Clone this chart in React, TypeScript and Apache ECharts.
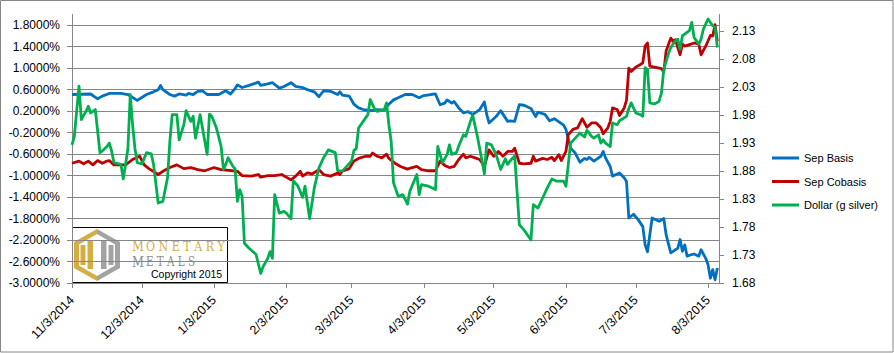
import React, { useEffect, useRef } from "react";
import * as echarts from "echarts";

// x values are days since 11/3/2014
const xTickDays = [0, 30, 61, 92, 120, 151, 181, 212, 242, 273];
const leftTicks = [-3.0, -2.6, -2.2, -1.8, -1.4, -1.0, -0.6, -0.2, 0.2, 0.6, 1.0, 1.4, 1.8];
const rightTicks = [1.68, 1.73, 1.78, 1.83, 1.88, 1.93, 1.98, 2.03, 2.08, 2.13];
const seriesNames = ["Sep Basis", "Sep Cobasis", "Dollar (g silver)"];
const seriesColors = ["#0070C0", "#C00000", "#00B050"];

const sepBasis: [number, number][] = [
  [0, 0.51], [8, 0.52], [11, 0.43], [13, 0.48], [16, 0.53], [21, 0.53], [24, 0.51], [28, 0.40],
  [32, 0.51], [35, 0.56], [37, 0.60], [38, 0.68], [39, 0.60], [42, 0.51], [44, 0.48], [46, 0.52],
  [49, 0.50], [50, 0.53], [52, 0.51], [54, 0.57], [56, 0.58], [58, 0.51], [63, 0.51], [66, 0.58],
  [68, 0.52], [70, 0.62], [71, 0.69], [73, 0.64], [76, 0.68], [80, 0.74], [81, 0.68], [84, 0.71],
  [86, 0.73], [89, 0.63], [91, 0.66], [94, 0.73], [96, 0.66], [99, 0.64], [101, 0.60], [104, 0.56],
  [106, 0.47], [108, 0.58], [111, 0.57], [114, 0.51], [115, 0.56], [116, 0.50], [119, 0.48], [121, 0.33],
  [123, 0.26], [125, 0.23], [129, 0.21], [131, 0.23], [134, 0.22], [136, 0.33], [138, 0.41], [140, 0.45],
  [143, 0.51], [146, 0.51], [149, 0.45], [151, 0.49], [154, 0.51], [156, 0.52], [158, 0.32], [160, 0.35],
  [161, 0.41], [163, 0.35], [164, 0.38], [166, 0.26], [168, 0.17], [170, 0.19], [172, 0.14], [175, 0.23],
  [177, 0.37], [178, 0.14], [179, -0.02], [182, 0.10], [184, 0.21], [187, 0.01], [188, 0.02], [190, 0.01],
  [191, 0.17], [192, 0.32], [194, 0.31], [197, 0.25], [199, 0.10], [200, 0.18], [203, 0.14], [205, 0.02],
  [207, 0.06], [209, 0.0], [211, -0.06], [212, -0.14], [214, -0.49], [216, -0.58], [218, -0.75], [220, -0.68],
  [221, -0.70], [222, -0.66], [224, -0.73], [227, -0.64], [228, -0.55], [229, -0.67], [231, -0.83], [232, -1.01],
  [234, -0.97], [235, -0.95], [237, -1.04], [238, -1.11], [239, -1.79], [241, -1.72], [243, -1.82], [245, -1.95],
  [246, -2.29], [247, -2.42], [249, -1.79], [252, -1.85], [254, -1.80], [255, -2.10], [257, -2.44], [258, -2.41],
  [260, -2.35], [261, -2.19], [262, -2.41], [263, -2.29], [264, -2.50], [266, -2.47], [267, -2.46], [269, -2.50],
  [270, -2.38], [272, -2.54], [273, -2.66], [274, -2.91], [275, -2.75], [276, -2.94], [277, -2.72],
];

const sepCobasis: [number, number][] = [
  [0, -0.77], [3, -0.73], [5, -0.78], [7, -0.73], [9, -0.80], [11, -0.72], [13, -0.77], [15, -0.73],
  [16, -0.72], [18, -0.80], [23, -0.80], [26, -0.70], [29, -0.64], [31, -0.80], [33, -0.87], [37, -0.98],
  [39, -0.92], [42, -0.85], [45, -0.80], [48, -0.87], [51, -0.85], [54, -0.89], [57, -0.91], [61, -0.85],
  [64, -0.89], [69, -0.91], [71, -0.92], [73, -1.00], [77, -1.01], [80, -0.98], [81, -1.03], [84, -1.00],
  [87, -1.00], [90, -0.98], [94, -1.08], [96, -1.01], [98, -0.92], [99, -1.01], [101, -0.95], [103, -0.97],
  [106, -0.89], [108, -0.98], [111, -1.01], [114, -0.95], [115, -0.98], [116, -0.92], [119, -0.87], [121, -0.73],
  [123, -0.68], [126, -0.64], [128, -0.64], [129, -0.58], [131, -0.64], [133, -0.67], [135, -0.60], [136, -0.68],
  [139, -0.78], [141, -0.83], [144, -0.88], [146, -0.85], [148, -0.83], [150, -0.89], [153, -0.91], [156, -0.91],
  [158, -0.73], [160, -0.81], [162, -0.85], [164, -0.83], [166, -0.70], [168, -0.60], [169, -0.67], [171, -0.64],
  [173, -0.67], [175, -0.70], [177, -0.83], [178, -0.67], [179, -0.52], [181, -0.64], [183, -0.55], [185, -0.64],
  [187, -0.55], [189, -0.55], [190, -0.49], [192, -0.77], [194, -0.78], [197, -0.77], [198, -0.64], [199, -0.73],
  [202, -0.68], [204, -0.70], [206, -0.66], [207, -0.72], [209, -0.61], [210, -0.72], [212, -0.55], [213, -0.24],
  [215, -0.14], [217, -0.11], [219, 0.06], [221, -0.10], [223, -0.02], [225, -0.02], [227, -0.11], [228, -0.22],
  [230, -0.11], [231, 0.01], [232, 0.26], [234, 0.23], [235, 0.12], [237, 0.26], [238, 0.40], [239, 1.00],
  [240, 0.94], [242, 1.02], [244, 1.07], [245, 1.10], [246, 1.41], [247, 1.47], [248, 1.04], [250, 1.02],
  [253, 0.99], [254, 0.93], [255, 1.32], [257, 1.56], [258, 1.50], [259, 1.53], [261, 1.25], [262, 1.45],
  [263, 1.41], [265, 1.44], [267, 1.47], [269, 1.45], [270, 1.25], [272, 1.41], [274, 1.61], [275, 1.60],
  [276, 1.81], [277, 1.50],
];

const dollarGSilver: [number, number][] = [
  [0, 1.927], [1, 1.942], [3, 2.032], [4, 1.972], [6, 1.987], [7, 1.996], [8, 1.984], [10, 1.990],
  [12, 1.913], [13, 1.916], [15, 1.924], [16, 1.930], [17, 1.916], [18, 1.895], [21, 1.892], [22, 1.866],
  [23, 1.892], [24, 1.921], [25, 2.017], [26, 1.963], [27, 1.921], [28, 1.895], [30, 1.893], [32, 1.913],
  [34, 1.911], [35, 1.892], [37, 1.823], [39, 1.826], [41, 1.868], [42, 1.933], [43, 1.981], [45, 1.981],
  [46, 1.936], [48, 1.963], [49, 1.988], [51, 1.969], [52, 1.978], [53, 1.939], [55, 1.981], [56, 1.957],
  [58, 1.910], [59, 1.982], [60, 1.978], [62, 1.957], [64, 1.924], [65, 1.883], [66, 1.892], [67, 1.904],
  [69, 1.889], [70, 1.884], [71, 1.826], [72, 1.847], [73, 1.835], [74, 1.751], [76, 1.742], [79, 1.731],
  [81, 1.697], [82, 1.709], [84, 1.724], [85, 1.736], [86, 1.724], [87, 1.838], [89, 1.805], [91, 1.808],
  [92, 1.805], [94, 1.795], [95, 1.863], [97, 1.853], [99, 1.833], [100, 1.853], [102, 1.795], [104, 1.850],
  [106, 1.886], [108, 1.904], [110, 1.918], [113, 1.913], [114, 1.881], [116, 1.880], [118, 1.889], [120, 1.898],
  [121, 1.917], [122, 1.920], [123, 1.957], [125, 1.969], [127, 1.981], [128, 2.008], [130, 1.990], [131, 1.987],
  [134, 1.990], [135, 2.002], [136, 1.963], [137, 1.933], [138, 1.859], [140, 1.835], [142, 1.838], [144, 1.821],
  [145, 1.844], [148, 1.874], [149, 1.838], [150, 1.856], [153, 1.853], [156, 1.847], [157, 1.924], [159, 1.895],
  [161, 1.910], [162, 1.927], [163, 1.910], [165, 1.913], [166, 1.925], [168, 1.945], [169, 1.942], [171, 1.969],
  [172, 1.980], [174, 1.942], [176, 1.898], [177, 1.875], [178, 1.930], [180, 1.927], [182, 1.910], [184, 1.883],
  [186, 1.902], [187, 1.892], [188, 1.898], [190, 1.907], [192, 1.784], [194, 1.775], [197, 1.757], [198, 1.820],
  [200, 1.814], [202, 1.832], [204, 1.850], [206, 1.866], [208, 1.862], [211, 1.862], [212, 1.853], [214, 1.930],
  [216, 1.939], [218, 1.948], [220, 1.941], [221, 1.953], [222, 1.948], [223, 1.942], [224, 1.939], [226, 1.945],
  [227, 1.930], [228, 1.936], [229, 1.930], [231, 1.924], [232, 1.966], [234, 1.963], [235, 1.970], [238, 1.978],
  [239, 1.992], [240, 2.002], [242, 1.984], [244, 1.981], [245, 1.978], [246, 2.065], [247, 2.062], [248, 2.002],
  [250, 2.000], [252, 2.005], [253, 2.020], [254, 2.062], [256, 2.090], [257, 2.101], [259, 2.113], [260, 2.116],
  [261, 2.098], [262, 2.122], [265, 2.131], [266, 2.146], [267, 2.119], [269, 2.107], [270, 2.116], [271, 2.134],
  [273, 2.152], [275, 2.140], [276, 2.137], [277, 2.101],
];

const FONT = "'Liberation Sans', Arial, sans-serif";
const SERIF = "'DejaVu Serif', serif";
const AXIS_GRAY = "#868686";

function dayToLabel(v: number): string {
  const dt = new Date(2014, 10, 3 + Math.round(v));
  return `${dt.getMonth() + 1}/${dt.getDate()}/${dt.getFullYear()}`;
}

function measure(text: string, font: string): number {
  const c = document.createElement("canvas").getContext("2d");
  if (!c) return text.length * 6;
  c.font = font;
  return c.measureText(text).width || text.length * 6;
}

function stretchedText(text: string, font: string, x: number, y: number, width: number, fill: string) {
  const w = measure(text, font);
  return {
    type: "text",
    x,
    y,
    scaleX: width / w,
    style: { text, x: 0, y: 0, font, fill, textVerticalAlign: "middle", verticalAlign: "middle" },
  };
}

export default function App() {
  const ref = useRef<HTMLDivElement>(null);
  useEffect(() => {
    if (!ref.current) return;
    const chart = echarts.init(ref.current, undefined, { renderer: "svg" });
    const gold = "#D4AD45";
    const gray = "#A3A3A3";
    const metalGray = "#8E8E8E";
    const bigFont = `15px ${SERIF}`;
    const smallFont = `12px ${SERIF}`;
    const option: any = {
      animation: false,
      backgroundColor: "#ffffff",
      grid: { left: 72, right: 175, top: 14.5, bottom: 70, containLabel: false },
      legend: {
        orient: "vertical",
        left: 767,
        top: 146,
        itemWidth: 27,
        itemHeight: 3,
        itemGap: 9.5,
        icon: "rect",
        textStyle: { fontSize: 11, color: "#000", fontFamily: FONT, lineHeight: 14 },
        data: seriesNames,
      },
      xAxis: {
        type: "value",
        min: 0,
        max: 277.7,
        axisLine: { show: true, onZero: false, lineStyle: { color: AXIS_GRAY, width: 1 } },
        axisTick: { show: true, customValues: xTickDays, length: 5, lineStyle: { color: AXIS_GRAY } },
        axisLabel: {
          customValues: xTickDays,
          rotate: 45,
          margin: 15,
          formatter: (v: number) => dayToLabel(v),
          color: "#000",
          fontSize: 12.5,
          fontFamily: FONT,
        },
        splitLine: { show: false },
      },
      yAxis: [
        {
          type: "value",
          position: "left",
          min: -3.0,
          max: 2.0,
          axisLine: { show: true, onZero: false, lineStyle: { color: AXIS_GRAY, width: 1 } },
          axisTick: { show: true, customValues: leftTicks, length: 5, lineStyle: { color: AXIS_GRAY } },
          axisLabel: {
            customValues: leftTicks,
            formatter: (v: number) => v.toFixed(4) + "%",
            margin: 12,
            color: "#000",
            fontSize: 12,
            fontFamily: FONT,
          },
          splitLine: { show: false },
        },
        {
          type: "value",
          position: "right",
          min: 1.68,
          max: 2.16,
          axisLine: { show: true, onZero: false, lineStyle: { color: AXIS_GRAY, width: 1 } },
          axisTick: { show: true, customValues: rightTicks, length: 5, lineStyle: { color: AXIS_GRAY } },
          axisLabel: {
            customValues: rightTicks,
            formatter: (v: number) => v.toFixed(2),
            margin: 13,
            color: "#000",
            fontSize: 12,
            fontFamily: FONT,
          },
          splitLine: { show: false },
        },
        {
          type: "value",
          position: "left",
          min: 0,
          max: 5,
          interval: 0.4,
          axisLine: { show: false },
          axisTick: { show: false },
          axisLabel: { show: false },
          splitLine: { show: true, showMaxLine: false, lineStyle: { color: AXIS_GRAY, width: 1 } },
        },
      ],
      series: [sepBasis, sepCobasis, dollarGSilver].map((d, i) => ({
        name: seriesNames[i],
        type: "line",
        data: d,
        yAxisIndex: i === 2 ? 1 : 0,
        showSymbol: false,
        symbol: "none",
        lineStyle: { color: seriesColors[i], width: 2.8, join: "round" },
        itemStyle: { color: seriesColors[i] },
      })),
      graphic: [
        {
          type: "rect",
          z: 50,
          shape: { x: 0.5, y: 0.5, width: 892.5, height: 351.5 },
          style: { fill: "none", stroke: AXIS_GRAY, lineWidth: 1 },
          silent: true,
        },
        {
          type: "group",
          z: 100,
          children: [
            {
              type: "rect",
              shape: { x: 72.5, y: 227.5, width: 155, height: 55 },
              style: { fill: "#ffffff", stroke: "#000000", lineWidth: 1 },
            },
            {
              type: "polygon",
              shape: { points: [[97, 229], [74, 242], [74, 268], [97, 281]] },
              style: { fill: gold },
            },
            {
              type: "polygon",
              shape: { points: [[97, 229], [120, 242], [120, 268], [97, 281]] },
              style: { fill: gray },
            },
            {
              type: "polygon",
              shape: { points: [[97, 234], [115, 244.5], [115, 265.5], [97, 276], [79, 265.5], [79, 244.5]] },
              style: { fill: "#ffffff" },
            },
            { type: "rect", shape: { x: 80.5, y: 245, width: 5, height: 20 }, style: { fill: gold } },
            { type: "rect", shape: { x: 87.5, y: 241, width: 5.5, height: 28 }, style: { fill: gold } },
            { type: "rect", shape: { x: 101, y: 241, width: 5.5, height: 28 }, style: { fill: gray } },
            { type: "rect", shape: { x: 108.5, y: 245, width: 5, height: 20 }, style: { fill: gray } },
            stretchedText("M", bigFont, 132, 245.5, 12, gold),
            stretchedText("O N E T A R Y", smallFont, 146, 246.5, 79, gold),
            stretchedText("M", bigFont, 132, 261.5, 12, metalGray),
            stretchedText("E T A L S", smallFont, 146, 262.5, 49, metalGray),
            {
              type: "text",
              style: { text: "Copyright 2015", x: 151, y: 274, font: `10.5px ${FONT}`, fill: "#000", textVerticalAlign: "middle", verticalAlign: "middle" },
            },
          ],
        },
      ],
    };
    chart.setOption(option);
    return () => chart.dispose();
  }, []);
  return (
    <div
      ref={ref}
      style={{ position: "fixed", left: 0, top: 0, width: 894, height: 353, background: "#fff" }}
    />
  );
}
